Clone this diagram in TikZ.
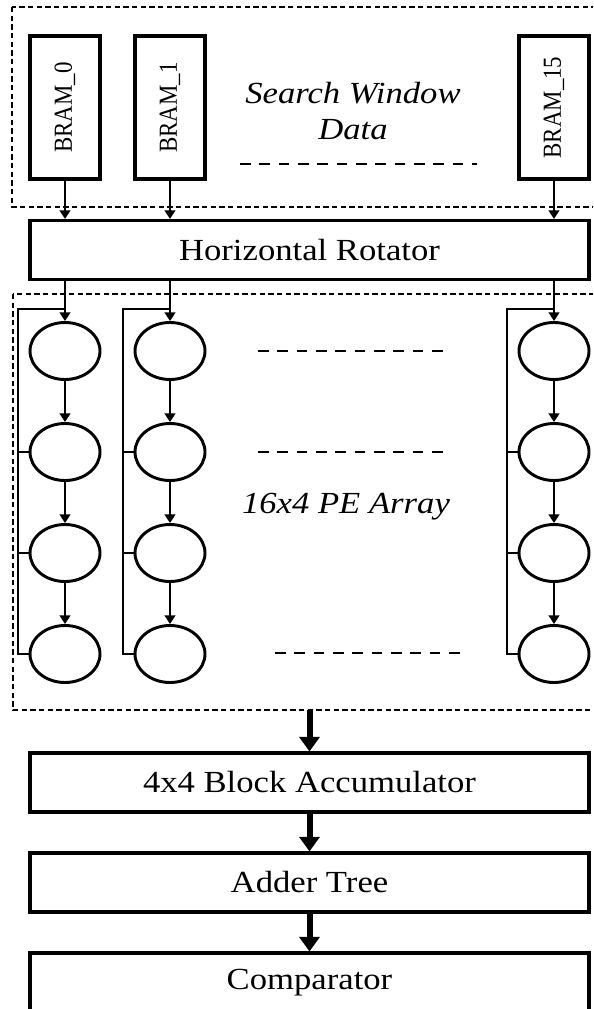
\documentclass[tikz,border=0pt]{standalone}
\usepackage{fontspec}
\setmainfont{Liberation Serif}[FakeStretch=1.13]
\newfontfamily\bramfont{Liberation Serif}[FakeStretch=0.88]
\usetikzlibrary{arrows.meta,shapes.geometric}

\begin{document}
\begin{tikzpicture}[x=0.75pt, y=-0.75pt,
	blk/.style={draw, line width=2.3pt, minimum width=419.25pt, minimum height=44.25pt, inner sep=0pt, font=\fontsize{23}{27}\selectfont},
	bram/.style={draw, line width=2.3pt, rotate=90, minimum width=107.25pt, minimum height=52.5pt, inner sep=0pt, font=\bramfont\fontsize{19.5}{22}\selectfont},
	pe/.style={draw, ellipse, line width=2.2pt, minimum width=52.5pt, minimum height=42.75pt, inner sep=0pt},
	note/.style={align=center, font=\fontsize{23}{27}\selectfont\itshape},
	wire/.style={line width=1.6pt},
	thin/.style={wire, -{Triangle[width=8pt,length=6.5pt]}},
	fat/.style={line width=4.5pt, -{Triangle[width=15pt,length=11pt]}},
	region/.style={line width=1.1pt, dash pattern=on 4pt off 2.5pt},
	gap/.style={line width=1.7pt, dash pattern=on 8pt off 6.5pt}]
	\path[use as bounding box, clip] (0,0) rectangle (593,1009);

	% search window memories
	\draw[region] (12,7) rectangle (620,207);
	\node[bram] (bram0) at (65,107.5) {BRAM\_0};
	\node[bram] (bram1) at (170,107.5) {BRAM\_1};
	\node[bram] (bram15) at (554,107.5) {BRAM\_15};
	\node[note] (swd) at (353,111) {Search Window\\Data};
	\draw[gap] (240,164) -- (477,164);

	\node[blk] (rot) at (309.5,250) {Horizontal Rotator};
	\draw[thin] (bram0) -- (bram0 |- rot.north);
	\draw[thin] (bram1) -- (bram1 |- rot.north);
	\draw[thin] (bram15) -- (bram15 |- rot.north);

	% PE array
	\draw[region] (13,294) rectangle (620,710);
	\foreach \c/\x in {0/65, 1/170, 15/554} {
		\foreach \r/\y in {1/351, 2/452, 3/553, 4/654}
			\node[pe] (pe\c-\r) at (\x,\y) {};
		\draw[thin] (rot.south -| pe\c-1) -- (pe\c-1);
		\draw[thin] (pe\c-1) -- (pe\c-2);
		\draw[thin] (pe\c-2) -- (pe\c-3);
		\draw[thin] (pe\c-3) -- (pe\c-4);
		% return path
		\coordinate (tap\c) at (\x,309);
		\coordinate (ret\c) at (\x-47,654);
		\draw[wire] (tap\c) -| (ret\c) -- (pe\c-4.west);
		\draw[wire] (ret\c |- pe\c-2) -- (pe\c-2.west);
		\draw[wire] (ret\c |- pe\c-3) -- (pe\c-3.west);
	}
	\draw[gap] (258,351) -- (448,351);
	\draw[gap] (258,452) -- (448,452);
	\draw[gap] (275,653) -- (467,653);
	\node[note] (arr) at (346,507) {16x4 PE Array};

	% result path
	\node[blk] (acc) at (309.5,782.5) {4x4 Block Accumulator};
	\node[blk] (add) at (309.5,882.5) {Adder Tree};
	\node[blk] (cmp) at (309.5,982.5) {Comparator};
	\coordinate (out) at (309.5,710);
	\draw[fat] (out) -- (acc);
	\draw[fat] (acc) -- (add);
	\draw[fat] (add) -- (cmp);
\end{tikzpicture}
\end{document}
